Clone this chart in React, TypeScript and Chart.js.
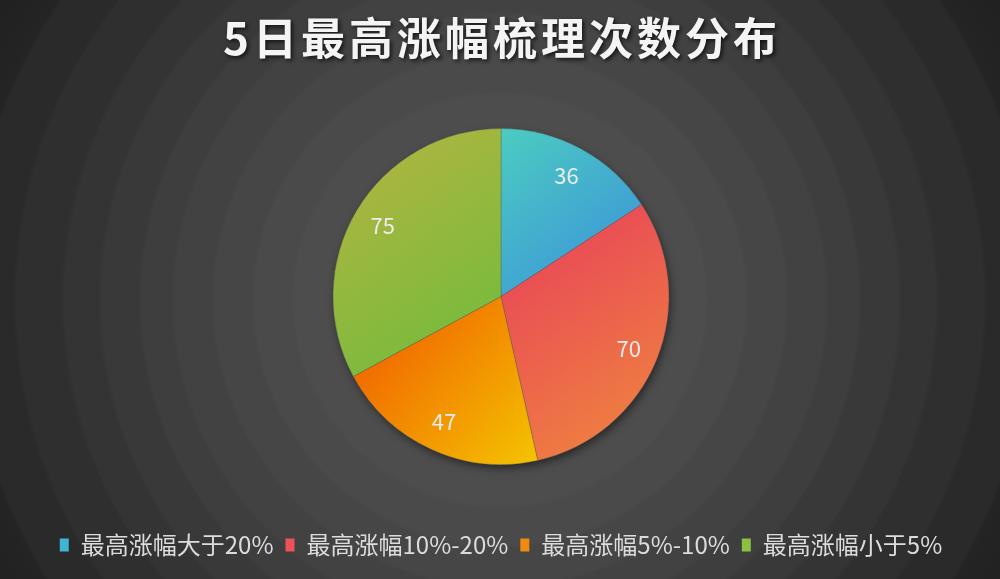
import { useEffect, useRef } from "react";
import { Chart, registerables } from "chart.js";

Chart.register(...registerables);

const labels = ["最高涨幅大于20%", "最高涨幅10%-20%", "最高涨幅5%-10%", "最高涨幅小于5%"];
const counts = [36, 70, 47, 75];
const titleText = "5日最高涨幅梳理次数分布";

// gradient stops per slice (top-left -> bottom-right)
const sliceFrom = ["#4cccc0", "#e83c5c", "#f05400", "#b8b440"];
const sliceTo = ["#3a8edc", "#f08a3c", "#f4c400", "#6cbc3c"];
const legendColors = ["#3fb4d4", "#ec5258", "#f08a10", "#8cc040"];

const FONT = "'Noto Sans CJK SC', 'Open Sans', sans-serif";
const PIE_R = 168;

// bounding box of one slice, angles in radians from chart centre
function sliceBox(cx: number, cy: number, r: number, a0: number, a1: number) {
  const xs = [cx, cx + r * Math.cos(a0), cx + r * Math.cos(a1)];
  const ys = [cy, cy + r * Math.sin(a0), cy + r * Math.sin(a1)];
  for (let k = -4; k <= 8; k++) {
    const a = (k * Math.PI) / 2;
    if (a > a0 && a < a1) {
      xs.push(cx + r * Math.cos(a));
      ys.push(cy + r * Math.sin(a));
    }
  }
  return [Math.min(...xs), Math.min(...ys), Math.max(...xs), Math.max(...ys)];
}

const titlePlugin = {
  id: "spacedTitle",
  afterDraw(chart: any) {
    const ctx = chart.ctx;
    ctx.save();
    ctx.font = `bold 44px ${FONT}`;
    (ctx as any).letterSpacing = "4px";
    ctx.textAlign = "center";
    ctx.textBaseline = "middle";
    ctx.shadowColor = "rgba(0,0,0,0.7)";
    ctx.shadowBlur = 4;
    ctx.shadowOffsetX = 2;
    ctx.shadowOffsetY = 2;
    ctx.fillStyle = "#f4f4f4";
    ctx.fillText(titleText, chart.width / 2 + 2, 38);
    ctx.restore();
  },
};

const pieShadow = {
  id: "pieShadow",
  beforeDatasetsDraw(chart: any) {
    const arc = chart.getDatasetMeta(0).data[0];
    if (!arc) return;
    const ctx = chart.ctx;
    ctx.save();
    ctx.shadowColor = "rgba(0,0,0,0.55)";
    ctx.shadowBlur = 10;
    ctx.shadowOffsetX = 2;
    ctx.shadowOffsetY = 4;
    ctx.fillStyle = "#333";
    ctx.beginPath();
    ctx.arc(arc.x, arc.y, arc.outerRadius - 1, 0, Math.PI * 2);
    ctx.fill();
    ctx.restore();
  },
};

const valueLabels = {
  id: "valueLabels",
  afterDatasetsDraw(chart: any) {
    const ctx = chart.ctx;
    const meta = chart.getDatasetMeta(0);
    ctx.save();
    ctx.font = `22px ${FONT}`;
    ctx.fillStyle = "#ececec";
    ctx.textAlign = "center";
    ctx.textBaseline = "middle";
    meta.data.forEach((arc: any, i: number) => {
      const mid = (arc.startAngle + arc.endAngle) / 2;
      const d = arc.outerRadius * 0.82;
      ctx.fillText(String(counts[i]), arc.x + d * Math.cos(mid), arc.y + d * Math.sin(mid));
    });
    ctx.restore();
  },
};

export default function App() {
  const canvasRef = useRef<HTMLCanvasElement>(null);

  useEffect(() => {
    document.body.style.margin = "0";
    if (!canvasRef.current) return;
    const total = counts.reduce((a, b) => a + b, 0);

    const chart = new Chart(canvasRef.current, {
      type: "pie",
      data: {
        labels,
        datasets: [
          {
            data: counts,
            radius: PIE_R,
            borderWidth: 1,
            borderColor: "rgba(90,90,90,0.35)",
            backgroundColor: (c: any) => {
              const ch = c.chart;
              const area = ch.chartArea;
              const i = c.dataIndex;
              if (!area) return sliceFrom[i];
              const cx = (area.left + area.right) / 2;
              const cy = (area.top + area.bottom) / 2;
              let before = 0;
              for (let k = 0; k < i; k++) before += counts[k];
              const a0 = -Math.PI / 2 + (before / total) * Math.PI * 2;
              const a1 = a0 + (counts[i] / total) * Math.PI * 2;
              const [x0, y0, x1, y1] = sliceBox(cx, cy, PIE_R, a0, a1);
              const g = ch.ctx.createLinearGradient(x0, y0, x1, y1);
              g.addColorStop(0, sliceFrom[i]);
              g.addColorStop(1, sliceTo[i]);
              return g;
            },
          },
        ],
      },
      options: {
        animation: false,
        responsive: false,
        layout: { padding: { top: 72, bottom: 12, left: 2, right: 0 } },
        plugins: {
          title: { display: false },
          tooltip: { enabled: false },
          legend: {
            position: "bottom",
            labels: {
              color: "#dcdcdc",
              font: { family: FONT, size: 24 },
              boxWidth: 9,
              boxHeight: 13,
              padding: 12,
              generateLabels: () =>
                labels.map((t, i) => ({
                  text: t,
                  fillStyle: legendColors[i],
                  strokeStyle: legendColors[i],
                  lineWidth: 0,
                  hidden: false,
                  index: i,
                  fontColor: "#dcdcdc",
                })),
            },
          },
        },
      },
      plugins: [pieShadow, valueLabels, titlePlugin],
    });

    return () => chart.destroy();
  }, []);

  const bg =
    "radial-gradient(circle at 500px 300px, #4e4e4e 0px, #4d4d4d 205px, #4a4a4a 209px, #4a4a4a 245px, #464646 249px, #464646 285px, #424242 289px, #424242 325px, #3e3e3e 329px, #3e3e3e 358px, #393939 362px, #393939 398px, #343434 402px, #343434 435px, #2f2f2f 439px, #2f2f2f 483px, #2a2a2a 487px, #2a2a2a 530px, #242424 534px, #1e1e1e 620px)";

  return (
    <div style={{ position: "absolute", left: 0, top: 0, width: 1000, height: 579, background: bg }}>
      <canvas ref={canvasRef} width={1000} height={579} style={{ width: 1000, height: 579 }} />
    </div>
  );
}
